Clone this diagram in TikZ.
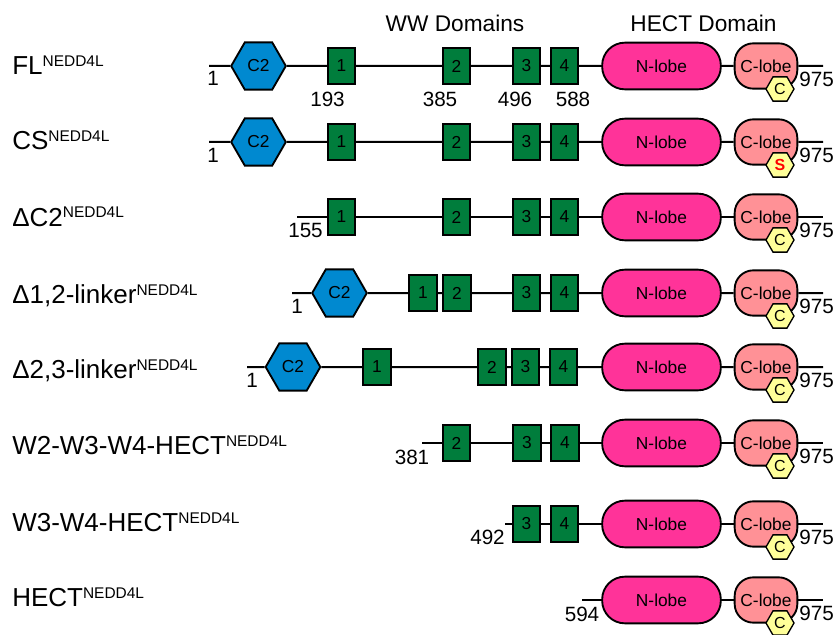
\documentclass[tikz,border=0pt]{standalone}
\usepackage{fontspec}
\setmainfont{Liberation Sans}
\usetikzlibrary{positioning}
\usetikzlibrary{shapes,calc}
\definecolor{ctwoblue}{RGB}{0,137,208}
\definecolor{wwgreen}{RGB}{0,125,60}
\definecolor{nlobepink}{RGB}{255,51,153}
\definecolor{clobepink}{RGB}{255,145,150}
\definecolor{cyspale}{RGB}{255,255,153}
\tikzstyle{backbone}=[draw=black,line width=1.5pt]
\tikzstyle{ctwo}=[
  regular polygon,
  regular polygon sides=6,
  draw=black,
  line width=1.4pt,
  fill=ctwoblue,
  minimum size=41pt,
  inner sep=0pt,
  font=\fontsize{13}{14}\selectfont
]
\tikzstyle{ww}=[
  rectangle,
  draw=black,
  line width=1.4pt,
  fill=wwgreen,
  minimum width=20.5pt,
  minimum height=27.5pt,
  inner sep=0pt,
  font=\fontsize{13}{14}\selectfont
]
\tikzstyle{nlobe}=[
  rectangle,
  rounded corners=17pt,
  draw=black,
  line width=1.4pt,
  fill=nlobepink,
  minimum width=89pt,
  minimum height=35pt,
  inner sep=0pt,
  font=\fontsize{13}{14}\selectfont
]
\tikzstyle{clobe}=[
  rectangle,
  rounded corners=14pt,
  draw=black,
  line width=1.4pt,
  fill=clobepink,
  minimum width=47pt,
  minimum height=34pt,
  inner sep=0pt,
  font=\fontsize{13}{14}\selectfont
]
\tikzstyle{cys}=[
  regular polygon,
  regular polygon sides=6,
  draw=black,
  line width=1pt,
  fill=cyspale,
  minimum size=21pt,
  inner sep=0pt,
  font=\fontsize{12}{13}\selectfont
]
\tikzstyle{resnum}=[inner sep=0pt,font=\fontsize{15.5}{16}\selectfont]
\tikzstyle{construct}=[anchor=base west,inner sep=0pt,font=\fontsize{19.5}{21}\selectfont]
\tikzstyle{header}=[anchor=base,inner sep=0pt,font=\fontsize{17}{18}\selectfont]
\newcommand{\nedd}{\raisebox{6pt}{\fontsize{11.6}{12}\selectfont NEDD4L}}

\begin{document}
\begin{tikzpicture}[x=0.75pt,y=-0.75pt]
    \useasboundingbox (0,0) rectangle (840,635);
    % headers
    \node[header] (wwhead) at (455,32) {WW Domains};
    \node[header] (hecthead) at (703.5,32) {HECT Domain};
    % HECT part, same in every construct
    \foreach \r/\yy/\res in {1/66/C,2/142/{\textcolor{red}{\textbf{S}}},3/217/C,4/293/C,5/367/C,6/443/C,7/524/C,8/600/C}{
      \node[nlobe] (n\r) at (661.5,\yy) {N-lobe};
      \node[clobe] (c\r) at (766,\yy) {C-lobe};
      \coordinate (e\r) at (823,\yy);
      \node[resnum,anchor=west] (t\r) at (799,\yy+13) {975};
      \node[cys] (y\r) at ($(c\r)+(14,23)$) {\res};
    }
    % construct names
    \node[construct] (lfl) at (12,74.5) {FL\nedd};
    \node[construct] (lcs) at (12,149.5) {CS\nedd};
    \node[construct] (ldc) at (12,226) {ΔC2\nedd};
    \node[construct] (ldl12) at (12,303) {Δ1,2-linker\nedd};
    \node[construct] (ldl23) at (12,378.5) {Δ2,3-linker\nedd};
    \node[construct] (lw234) at (12,454.5) {W2-W3-W4-HECT\nedd};
    \node[construct] (lw34) at (12,531) {W3-W4-HECT\nedd};
    \node[construct] (lhect) at (12,606.5) {HECT\nedd};
    % FL
    \coordinate (s1) at (209,66);
    \node[ctwo] (ctwo1) at (258.5,66) {C2};
    \node[ww] (wa1) at (341.5,66) {1};
    \node[ww] (wb1) at (456.5,66) {2};
    \node[ww] (wc1) at (526.5,66) {3};
    \node[ww] (wd1) at (564.5,66) {4};
    \node[resnum] (r1a) at (213,78) {1};
    \node[resnum] (r1b) at (327.5,99.5) {193};
    \node[resnum] (r1c) at (440,99.5) {385};
    \node[resnum] (r1d) at (515,99.5) {496};
    \node[resnum] (r1e) at (573,99.5) {588};
    % CS
    \coordinate (s2) at (209,142);
    \node[ctwo] (ctwo2) at (258.5,142) {C2};
    \node[ww] (wa2) at (341.5,142) {1};
    \node[ww] (wb2) at (456.5,142) {2};
    \node[ww] (wc2) at (526.5,142) {3};
    \node[ww] (wd2) at (564.5,142) {4};
    \node[resnum] (r2a) at (213,155) {1};
    % delta C2
    \coordinate (s3) at (297,217);
    \node[ww] (wa3) at (341.5,217) {1};
    \node[ww] (wb3) at (456.5,217) {2};
    \node[ww] (wc3) at (526.5,217) {3};
    \node[ww] (wd3) at (564.5,217) {4};
    \node[resnum] (r3a) at (305.5,230) {155};
    % delta 1,2-linker
    \coordinate (s4) at (292,293);
    \node[ctwo] (ctwo4) at (339.5,293) {C2};
    \node[ww] (wa4) at (423,293) {1};
    \node[ww] (wb4) at (457,293) {2};
    \node[ww] (wc4) at (526.5,293) {3};
    \node[ww] (wd4) at (564.5,293) {4};
    \node[resnum] (r4a) at (297,306) {1};
    % delta 2,3-linker
    \coordinate (s5) at (247,367);
    \node[ctwo] (ctwo5) at (293,367) {C2};
    \node[ww] (wa5) at (377,367) {1};
    \node[ww] (wb5) at (492,367) {2};
    \node[ww] (wc5) at (525.5,367) {3};
    \node[ww] (wd5) at (563.5,367) {4};
    \node[resnum] (r5a) at (252,380) {1};
    % W2-W3-W4-HECT
    \coordinate (s6) at (422,443);
    \node[ww] (wb6) at (456.5,443) {2};
    \node[ww] (wc6) at (527,443) {3};
    \node[ww] (wd6) at (565,443) {4};
    \node[resnum] (r6a) at (412,457.5) {381};
    % W3-W4-HECT
    \coordinate (s7) at (505,524);
    \node[ww] (wc7) at (526.5,524) {3};
    \node[ww] (wd7) at (564.5,524) {4};
    \node[resnum] (r7a) at (487.5,537) {492};
    % HECT
    \coordinate (s8) at (582,600);
    \node[resnum] (r8a) at (582,614) {594};
    % backbones
    \draw[backbone] (s1) -- (ctwo1) -- (wa1) -- (wb1) -- (wc1) -- (wd1) -- (n1) -- (c1) -- (e1);
    \draw[backbone] (s2) -- (ctwo2) -- (wa2) -- (wb2) -- (wc2) -- (wd2) -- (n2) -- (c2) -- (e2);
    \draw[backbone] (s3) -- (wa3) -- (wb3) -- (wc3) -- (wd3) -- (n3) -- (c3) -- (e3);
    \draw[backbone] (s4) -- (ctwo4) -- (wa4) -- (wb4) -- (wc4) -- (wd4) -- (n4) -- (c4) -- (e4);
    \draw[backbone] (s5) -- (ctwo5) -- (wa5) -- (wb5) -- (wc5) -- (wd5) -- (n5) -- (c5) -- (e5);
    \draw[backbone] (s6) -- (wb6) -- (wc6) -- (wd6) -- (n6) -- (c6) -- (e6);
    \draw[backbone] (s7) -- (wc7) -- (wd7) -- (n7) -- (c7) -- (e7);
    \draw[backbone] (s8) -- (n8) -- (c8) -- (e8);
\end{tikzpicture}
\end{document}
